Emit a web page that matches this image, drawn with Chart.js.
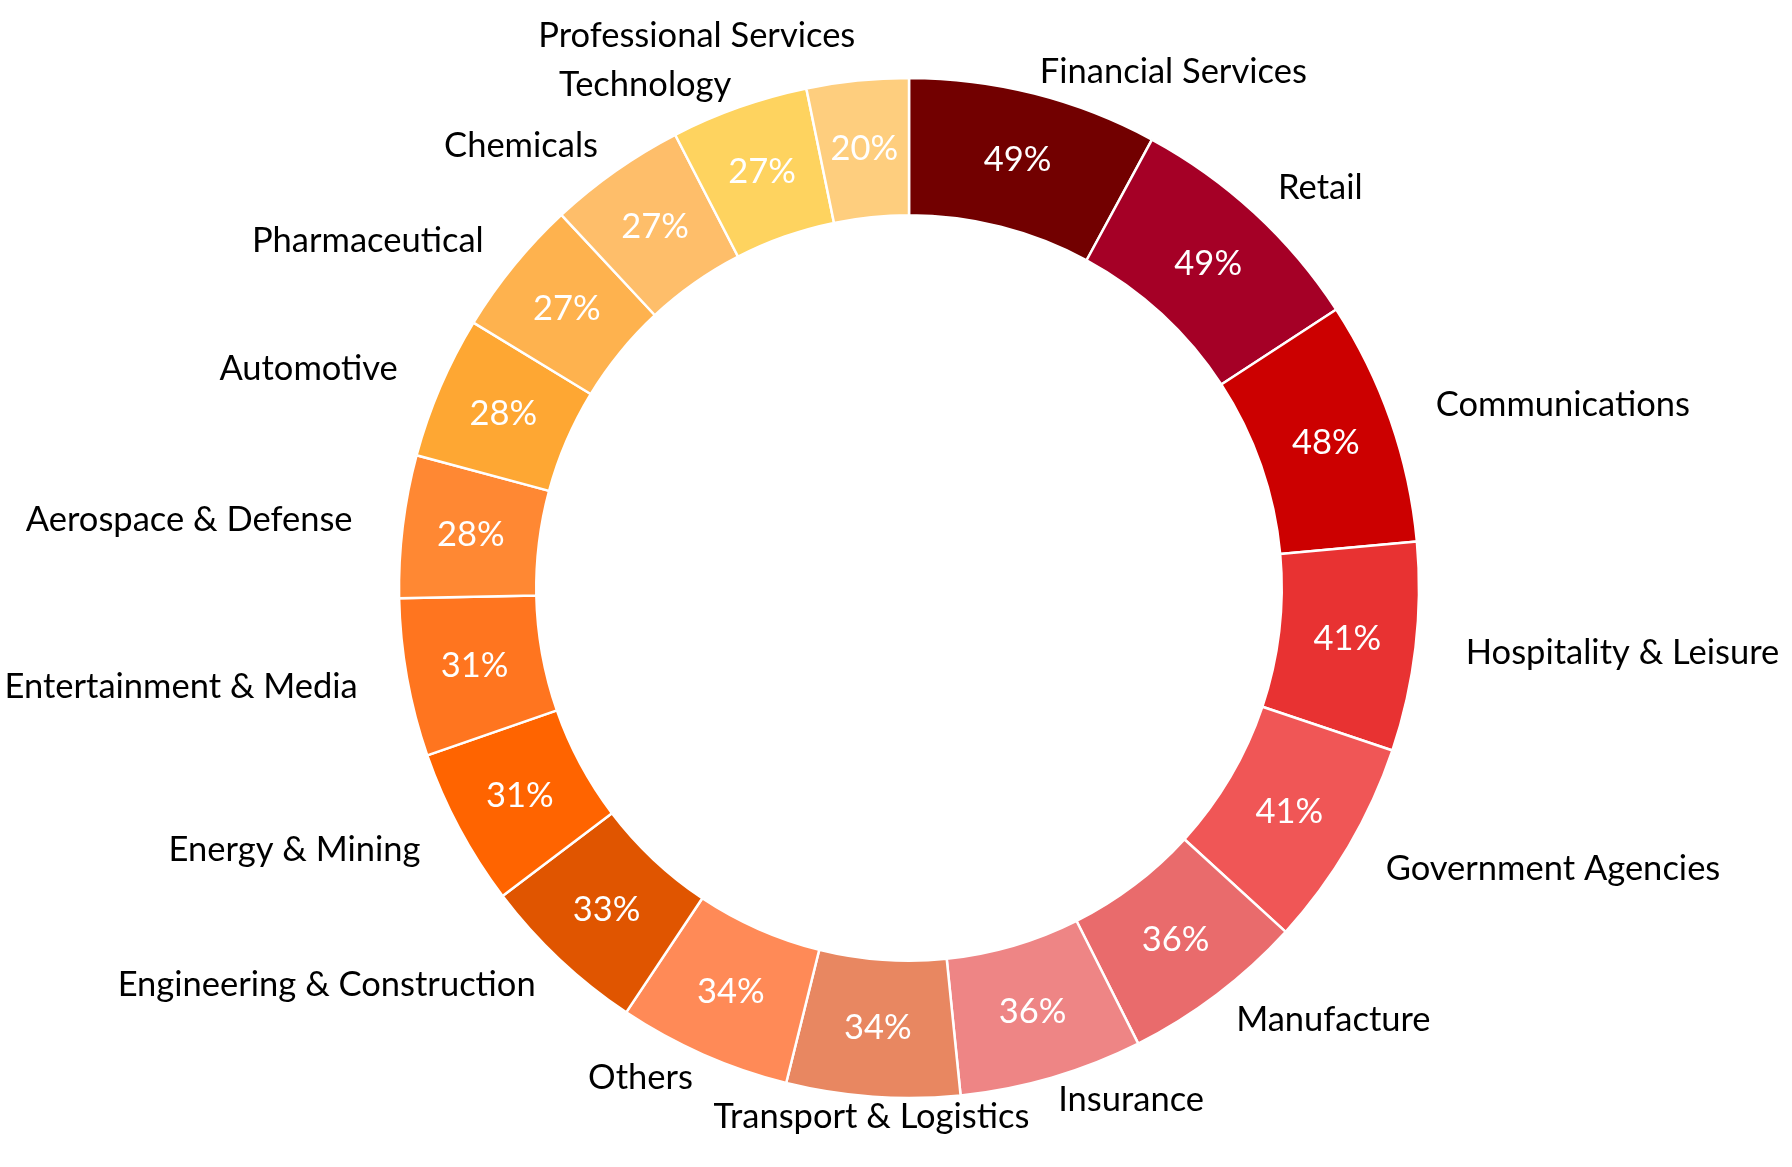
<!DOCTYPE html>
<html lang="en">
<head>
  <meta charset="UTF-8">
  <title>Industry share doughnut</title>
  <script src="https://cdn.jsdelivr.net/npm/chart.js"></script>
  <style>
    html, body {
      margin: 0;
      padding: 0;
      background-color: #ffffff;
    }
    .chart-container {
      width: 1792px;
      height: 1167px;
    }
  </style>
</head>
<body>
  <div class="chart-container">
    <canvas id="myChart"></canvas>
  </div>

  <script>
    const industries = [
      'Financial Services', 'Retail', 'Communications', 'Hospitality & Leisure',
      'Government Agencies', 'Manufacture', 'Insurance', 'Transport & Logistics',
      'Others', 'Engineering & Construction', 'Energy & Mining', 'Entertainment & Media',
      'Aerospace & Defense', 'Automotive', 'Pharmaceutical', 'Chemicals',
      'Technology', 'Professional Services'
    ];
    const shares = [49, 49, 48, 41, 41, 36, 36, 34, 34, 33, 31, 31, 28, 28, 27, 27, 27, 20];
    const sliceColors = [
      '#720000', '#a50026', '#cc0000', '#e83232',
      '#f05656', '#e96b6c', '#ee8585', '#e88761',
      '#ff8a57', '#e05500', '#ff6400', '#ff751f',
      '#ff8833', '#fea733', '#feb24e', '#febe6a',
      '#fed35f', '#fece7e'
    ];

    const fontFamily = 'Lato, "Open Sans", sans-serif';
    const fontSize = 34.5;

    // draws the % inside each slice and the category name outside it
    const sliceLabels = {
      id: 'sliceLabels',
      afterDatasetsDraw(chart) {
        const ctx = chart.ctx;
        const meta = chart.getDatasetMeta(0);
        ctx.save();
        ctx.textBaseline = 'middle';
        ctx.font = fontSize + 'px ' + fontFamily;

        const outside = [];
        let cy = 0;
        meta.data.forEach((arc, i) => {
          const p = arc.getProps(['x', 'y', 'startAngle', 'endAngle', 'innerRadius', 'outerRadius'], true);
          const mid = (p.startAngle + p.endAngle) / 2;
          const c = Math.cos(mid);
          const s = Math.sin(mid);
          cy = p.y;

          const rIn = (p.innerRadius + p.outerRadius) / 2;
          ctx.fillStyle = '#ffffff';
          ctx.textAlign = 'center';
          ctx.fillText(shares[i] + '%', p.x + c * rIn, p.y + s * rIn);

          // labels sit a bit closer to the ring near top and bottom
          const dist = p.outerRadius * (1.1 - 0.06 * s * s);
          const x = p.x + c * dist;
          const w = ctx.measureText(industries[i]).width;
          let align = c >= 0 ? 'left' : 'right';
          if (Math.abs(c) < 0.08) align = 'center';
          const x0 = align === 'left' ? x : align === 'right' ? x - w : x - w / 2;
          outside.push({ text: industries[i], x, y: p.y + s * dist, align, x0, x1: x0 + w });
        });

        // push apart names that would collide
        const minGap = fontSize * 1.42;
        for (let iter = 0; iter < 10; iter++) {
          for (let a = 0; a < outside.length; a++) {
            for (let b = a + 1; b < outside.length; b++) {
              const A = outside[a], B = outside[b];
              if (A.x1 < B.x0 || B.x1 < A.x0) continue;
              const gap = Math.abs(A.y - B.y);
              if (gap >= minGap) continue;
              const upper = A.y < B.y ? A : B;
              const lower = upper === A ? B : A;
              const push = minGap - gap;
              if (lower.y < cy) upper.y -= push;
              else if (upper.y > cy) lower.y += push;
              else { upper.y -= push / 2; lower.y += push / 2; }
            }
          }
        }

        ctx.fillStyle = '#000000';
        outside.forEach(l => {
          ctx.textAlign = l.align;
          ctx.fillText(l.text, l.x, l.y);
        });
        ctx.restore();
      }
    };

    const ctx = document.getElementById('myChart').getContext('2d');
    const myChart = new Chart(ctx, {
      type: 'doughnut',
      data: {
        labels: industries,
        datasets: [{
          data: shares,
          backgroundColor: sliceColors,
          borderColor: '#ffffff',
          borderWidth: 2.5
        }]
      },
      options: {
        responsive: true,
        maintainAspectRatio: false,
        animation: false,
        radius: 510,
        cutout: 385,
        layout: {
          padding: { left: 26, right: 0, top: 60, bottom: 51 }
        },
        plugins: {
          legend: { display: false },
          tooltip: { enabled: false }
        }
      },
      plugins: [sliceLabels]
    });
  </script>
</body>
</html>
